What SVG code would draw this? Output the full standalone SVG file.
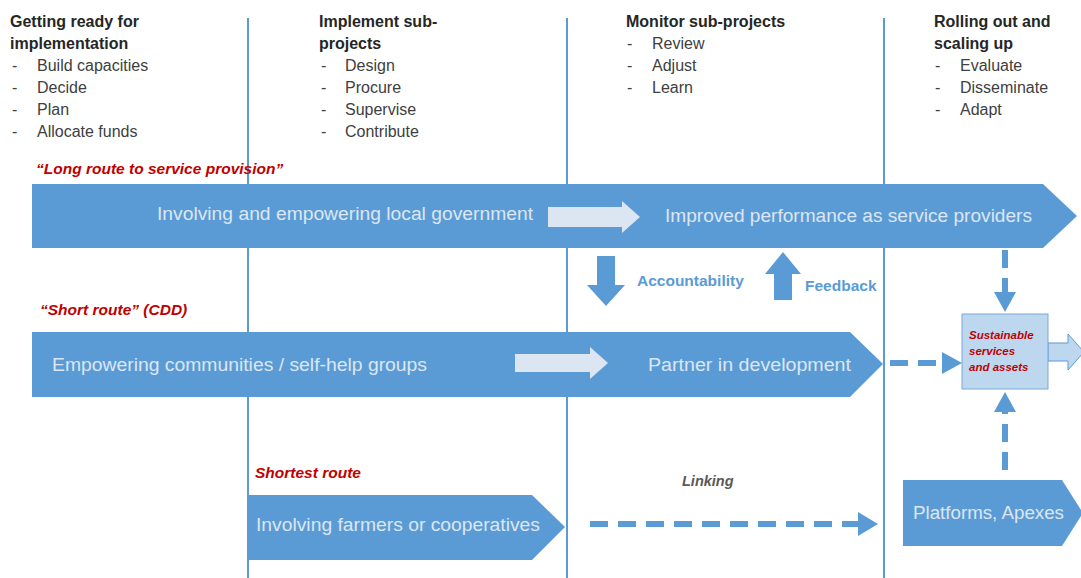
<svg xmlns="http://www.w3.org/2000/svg" width="1081" height="578" viewBox="0 0 1081 578">
<style>
.head{font-family:"Liberation Sans",Arial,sans-serif;font-size:16px;font-weight:bold;fill:#262626}
.item{font-family:"Liberation Sans",Arial,sans-serif;font-size:16px;fill:#404040}
.route{font-family:"Liberation Sans",Arial,sans-serif;font-size:15.5px;font-weight:bold;font-style:italic;fill:#c00000}
.atext{font-family:"Liberation Sans",Arial,sans-serif;font-size:18px;fill:#dce6f2}
.blue{fill:#5b9bd5}
.lite{fill:#dce6f2}
.vline{stroke:#5b9bd5;stroke-width:2}
.dash{stroke:#5b9bd5;stroke-width:6;stroke-dasharray:18 10;fill:none}
.lbl{font-family:"Liberation Sans",Arial,sans-serif;font-size:15.5px;font-weight:bold;fill:#5b9bd5}
</style>
<rect width="1081" height="578" fill="#ffffff"/>
<g id="columns">
<line class="vline" x1="248" y1="18" x2="248" y2="578"/>
<line class="vline" x1="567" y1="18" x2="567" y2="578"/>
<line class="vline" x1="884" y1="18" x2="884" y2="578"/>
</g>
<g id="col1">
<text class="head" x="10" y="27">Getting ready for</text>
<text class="head" x="10" y="49">implementation</text>
<text class="item" x="12" y="71">-</text><text class="item" x="37" y="71">Build capacities</text>
<text class="item" x="12" y="93">-</text><text class="item" x="37" y="93">Decide</text>
<text class="item" x="12" y="115">-</text><text class="item" x="37" y="115">Plan</text>
<text class="item" x="12" y="137">-</text><text class="item" x="37" y="137">Allocate funds</text>
</g>
<g id="col2">
<text class="head" x="319" y="27">Implement sub-</text>
<text class="head" x="319" y="49">projects</text>
<text class="item" x="321" y="71">-</text><text class="item" x="345" y="71">Design</text>
<text class="item" x="321" y="93">-</text><text class="item" x="345" y="93">Procure</text>
<text class="item" x="321" y="115">-</text><text class="item" x="345" y="115">Supervise</text>
<text class="item" x="321" y="137">-</text><text class="item" x="345" y="137">Contribute</text>
</g>
<g id="col3">
<text class="head" x="626" y="27">Monitor sub-projects</text>
<text class="item" x="627" y="49">-</text><text class="item" x="652" y="49">Review</text>
<text class="item" x="627" y="71">-</text><text class="item" x="652" y="71">Adjust</text>
<text class="item" x="627" y="93">-</text><text class="item" x="652" y="93">Learn</text>
</g>
<g id="col4">
<text class="head" x="934" y="27">Rolling out and</text>
<text class="head" x="934" y="49">scaling up</text>
<text class="item" x="935" y="71">-</text><text class="item" x="960" y="71">Evaluate</text>
<text class="item" x="935" y="93">-</text><text class="item" x="960" y="93">Disseminate</text>
<text class="item" x="935" y="115">-</text><text class="item" x="960" y="115">Adapt</text>
</g>
<g id="long-route">
<text class="route" x="36" y="174">“Long route to service provision”</text>
<polygon class="blue" points="32,184 1043,184 1077,216 1043,248 32,248"/>
<text class="atext" x="157" y="220" textLength="376" lengthAdjust="spacingAndGlyphs">Involving and empowering local government</text>
<polygon class="lite" points="548,207 622,207 622,201 640,217 622,233 622,227 548,227"/>
<text class="atext" x="665" y="222" textLength="367" lengthAdjust="spacingAndGlyphs">Improved performance as service providers</text>
</g>
<g id="accountability">
<polygon class="blue" points="597,256 615,256 615,285 625,285 606,306 587,285 597,285"/>
<text class="lbl" x="637" y="286">Accountability</text>
</g>
<g id="feedback">
<polygon class="blue" points="774,300 792,300 792,274 801,274 783,252 765,274 774,274"/>
<text class="lbl" x="805" y="291">Feedback</text>
</g>
<g id="short-route">
<text class="route" x="40" y="315">“Short route” (CDD)</text>
<polygon class="blue" points="32,332 850,332 883,364 850,397 32,397"/>
<text class="atext" x="52" y="371" textLength="375" lengthAdjust="spacingAndGlyphs">Empowering communities / self-help groups</text>
<polygon class="lite" points="515,354 590,354 590,347 608,363 590,379 590,372 515,372"/>
<text class="atext" x="648" y="371" textLength="203" lengthAdjust="spacingAndGlyphs">Partner in development</text>
</g>
<g id="sustainable">
<polygon points="1048,343 1068,343 1068,334 1084,352 1068,370 1068,361 1048,361" fill="#bdd7ee" stroke="#5b9bd5" stroke-width="1"/>
<rect x="962" y="314" width="86" height="75" fill="#bdd7ee" stroke="#7aa8d8" stroke-width="1"/>
<text font-family="Liberation Sans,Arial,sans-serif" font-size="11.5" font-weight="bold" font-style="italic" fill="#c00000">
<tspan x="969" y="339">Sustainable</tspan>
<tspan x="969" y="355">services</tspan>
<tspan x="969" y="371">and assets</tspan>
</text>
</g>
<g id="shortest-route">
<text class="route" x="255" y="478">Shortest route</text>
<polygon class="blue" points="248,495 532,495 565,527 532,560 248,560"/>
<text class="atext" x="256" y="531" textLength="284" lengthAdjust="spacingAndGlyphs">Involving farmers or cooperatives</text>
</g>
<g id="platforms">
<polygon class="blue" points="903,480 1062,480 1081,510 1081,516 1062,546 903,546"/>
<text class="atext" x="913" y="519" textLength="151" lengthAdjust="spacingAndGlyphs">Platforms, Apexes</text>
</g>
<g id="connectors">
<line class="dash" x1="1005" y1="250" x2="1005" y2="292"/>
<polygon class="blue" points="994,292 1016,292 1005,312"/>
<line class="dash" x1="890" y1="363" x2="943" y2="363"/>
<polygon class="blue" points="942,352 962,363 942,374"/>
<line class="dash" x1="1005" y1="470" x2="1005" y2="410"/>
<polygon class="blue" points="994,412 1016,412 1005,392"/>
<line class="dash" x1="590" y1="524" x2="860" y2="524"/>
<polygon class="blue" points="858,512 878,524 858,536"/>
<text font-family="Liberation Sans,Arial,sans-serif" font-size="14.5" font-weight="bold" font-style="italic" fill="#595959" x="682" y="486">Linking</text>
</g>
</svg>
